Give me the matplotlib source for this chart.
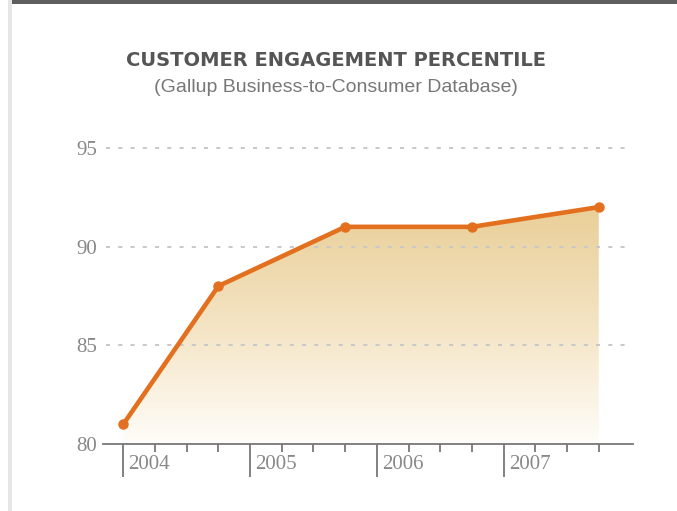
import matplotlib
matplotlib.use("Agg")
import matplotlib.pyplot as plt
import numpy as np
from matplotlib.colors import LinearSegmentedColormap
from matplotlib.patches import Polygon, Rectangle
import matplotlib.transforms as mtransforms

# Data
years = [2004.0, 2004.75, 2005.75, 2006.75, 2007.75]
values = [81, 88, 91, 91, 92]
year_ticks = [2004, 2005, 2006, 2007]
year_labels = ["2004", "2005", "2006", "2007"]
y_ticks = [80, 85, 90, 95]
title = "CUSTOMER ENGAGEMENT PERCENTILE"
subtitle = "(Gallup Business-to-Consumer Database)"

W, H = 677, 511
fig = plt.figure(figsize=(W / 100, H / 100), dpi=100)
fig.patch.set_facecolor("white")

# Frame decorations
fig.patches.append(Rectangle((9 / W, 1 - 4 / H), 1, 4 / H, transform=fig.transFigure,
                             facecolor="#5f5f5f", edgecolor="none"))
fig.patches.append(Rectangle((8 / W, 0), 4 / W, 1, transform=fig.transFigure,
                             facecolor="#e6e6e6", edgecolor="none"))

ax = fig.add_axes([103 / W, (H - 444) / H, 530 / W, (444 - 138) / H])
ax.set_xlim(2003.84, 2008.02)
ax.set_ylim(80, 95.5)
ax.set_facecolor("none")

for s in ["top", "right", "left"]:
    ax.spines[s].set_visible(False)
ax.spines["bottom"].set_color("#777777")
ax.spines["bottom"].set_linewidth(1.3)

# Gridlines (drawn over the fill)
for yv in y_ticks[1:]:
    ax.plot([2003.86, 2007.96], [yv, yv], color="#c8c8c8", lw=1.4,
            linestyle=(0, (2.1, 4.2)), zorder=2.5)

# Gradient fill
cmap = LinearSegmentedColormap.from_list("g", ["#fffdf9", "#f4e4c4", "#e9cf98"])
grad = np.linspace(0, 1, 256).reshape(-1, 1)
im = ax.imshow(grad, aspect="auto", cmap=cmap, origin="lower",
               extent=[years[0], years[-1], 80, max(values)], zorder=2)
poly = Polygon(list(zip(years, values)) + [(years[-1], 80), (years[0], 80)],
               closed=True, transform=ax.transData, facecolor="none", edgecolor="none")
ax.add_patch(poly)
im.set_clip_path(poly)

ax.plot(years, values, color="#e2701f", lw=3.3, marker="o", markersize=6.5,
        solid_joinstyle="round", zorder=3, clip_on=False)

# Ticks
ax.set_yticks(y_ticks)
ax.set_yticklabels([str(v) for v in y_ticks], fontfamily="Liberation Serif",
                   fontsize=15, color="#888888")
ax.tick_params(axis="y", length=0, pad=4)

ax.set_xticks(year_ticks)
ax.set_xticklabels([])
ax.set_xticks([y + q for y in year_ticks for q in (0.25, 0.5, 0.75)], minor=True)
ax.tick_params(axis="x", which="major", direction="out", length=24, width=1.3, color="#777777")
ax.tick_params(axis="x", which="minor", direction="out", length=6, width=1.3, color="#777777")

trans = mtransforms.blended_transform_factory(ax.transData, ax.transAxes)
for yr, lab in zip(year_ticks, year_labels):
    t = ax.text(yr, 0, lab, transform=trans, ha="left", va="center",
                fontfamily="Liberation Serif", fontsize=15, color="#888888")
    t.set_transform(trans + mtransforms.ScaledTranslation(5 / 100, -20 / 100, fig.dpi_scale_trans))

fig.text(336 / W, 1 - 60 / H, title, ha="center", va="center", fontfamily="DejaVu Sans",
         fontweight="bold", fontsize=14, color="#555555")
fig.text(336 / W, 1 - 88 / H, subtitle, ha="center", va="center", fontfamily="Liberation Sans",
         fontsize=14, color="#777777")

fig.savefig("out.png", dpi=100, facecolor="white")
